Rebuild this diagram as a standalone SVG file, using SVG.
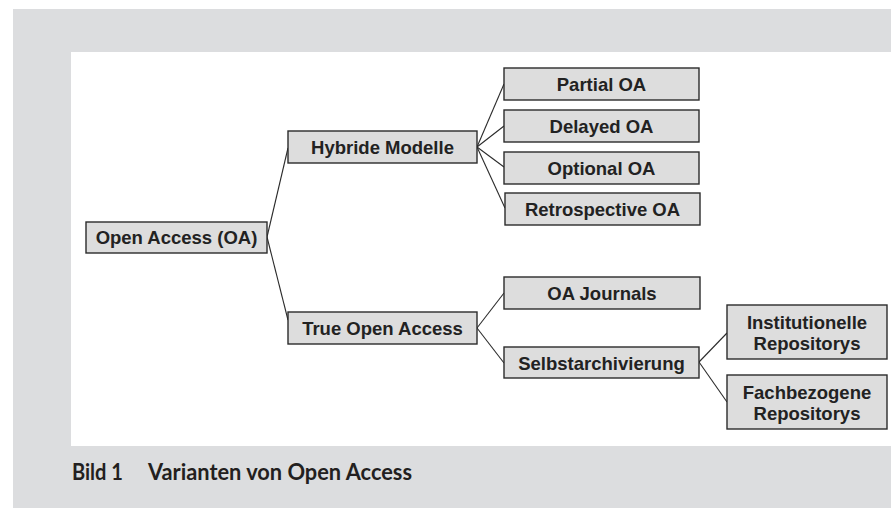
<svg xmlns="http://www.w3.org/2000/svg" width="891" height="508" viewBox="0 0 891 508">
<style>
.box{fill:#dddddd;stroke:#2b2b2b;stroke-width:1.4}
.t{font-family:"Liberation Sans",Arial,sans-serif;font-weight:bold;font-size:18.5px;fill:#222;text-anchor:middle}
.c{fill:none;stroke:#2b2b2b;stroke-width:1.1}
.cap{font-family:Lato,"Noto Sans",sans-serif;font-weight:bold;font-size:22px;fill:#231f20}
</style>
<rect x="0" y="0" width="891" height="508" fill="#ffffff"/>
<rect x="13" y="9" width="878" height="499" fill="#dcdddf"/>
<rect x="71" y="52" width="820" height="394" fill="#ffffff"/>
<g id="connectors">
<line class="c" x1="267" y1="237" x2="288" y2="148"/>
<line class="c" x1="267" y1="237" x2="288" y2="320"/>
<line class="c" x1="477" y1="147" x2="504" y2="84"/>
<line class="c" x1="477" y1="147" x2="504" y2="126"/>
<line class="c" x1="477" y1="147" x2="504" y2="167"/>
<line class="c" x1="477" y1="147" x2="505" y2="208"/>
<line class="c" x1="477" y1="328" x2="504" y2="293"/>
<line class="c" x1="477" y1="328" x2="504" y2="363"/>
<line class="c" x1="699" y1="362" x2="727" y2="333"/>
<line class="c" x1="699" y1="362" x2="727" y2="402"/>
</g>
<g id="n-oa"><rect class="box" x="86" y="222" width="181" height="31"/><text class="t" x="176.5" y="244">Open Access (OA)</text></g>
<g id="n-hybrid"><rect class="box" x="288" y="131" width="189" height="32"/><text class="t" x="382.5" y="154">Hybride Modelle</text></g>
<g id="n-true"><rect class="box" x="288" y="312" width="189" height="32"/><text class="t" x="382.5" y="335">True Open Access</text></g>
<g id="n-partial"><rect class="box" x="504" y="68" width="195" height="32"/><text class="t" x="601.5" y="91">Partial OA</text></g>
<g id="n-delayed"><rect class="box" x="504" y="110" width="195" height="32"/><text class="t" x="601.5" y="133">Delayed OA</text></g>
<g id="n-optional"><rect class="box" x="504" y="152" width="195" height="32"/><text class="t" x="601.5" y="175">Optional OA</text></g>
<g id="n-retro"><rect class="box" x="505" y="193" width="195" height="32"/><text class="t" x="602.5" y="216">Retrospective OA</text></g>
<g id="n-journals"><rect class="box" x="504" y="277" width="196" height="32"/><text class="t" x="602" y="300">OA Journals</text></g>
<g id="n-selbst"><rect class="box" x="504" y="347" width="195" height="31"/><text class="t" x="601.5" y="369.5">Selbstarchivierung</text></g>
<g id="n-inst"><rect class="box" x="727" y="305" width="160" height="54"/><text class="t" x="807" y="328.5">Institutionelle</text><text class="t" x="807" y="350">Repositorys</text></g>
<g id="n-fach"><rect class="box" x="727" y="375" width="160" height="54"/><text class="t" x="807" y="398.5">Fachbezogene</text><text class="t" x="807" y="420">Repositorys</text></g>
<text class="cap" x="72" y="480" textLength="51" lengthAdjust="spacingAndGlyphs">Bild 1</text>
<text class="cap" x="148" y="480" textLength="264" lengthAdjust="spacingAndGlyphs">Varianten von Open Access</text>
</svg>
